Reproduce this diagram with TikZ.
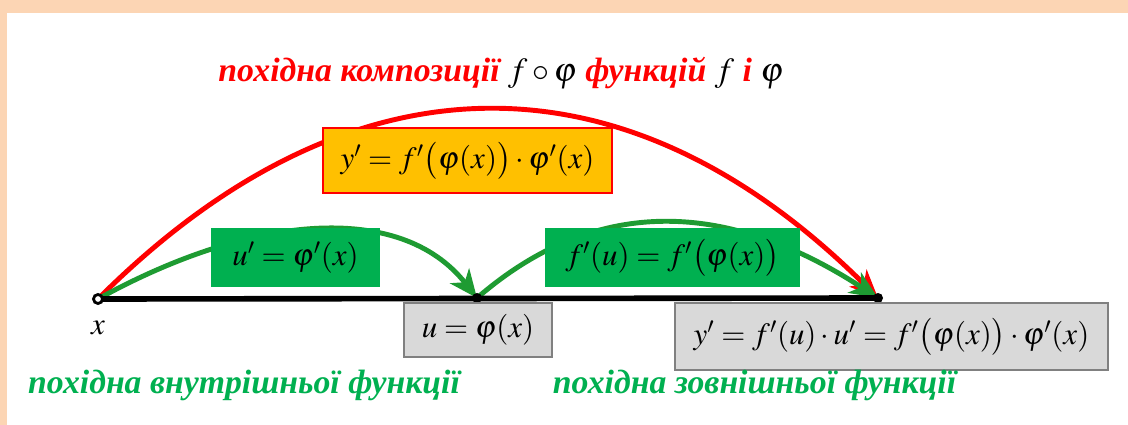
\documentclass[tikz,border=0pt]{standalone}
\usepackage{mathptmx}
\usepackage{fontspec}
\setmainfont{Liberation Serif}
\usetikzlibrary{arrows.meta,positioning}

\definecolor{peach}{HTML}{FCD5B4}
\definecolor{boxgreen}{HTML}{00B050}
\definecolor{arcgreen}{HTML}{1E9B32}
\definecolor{boxorange}{HTML}{FFC000}
\definecolor{boxgray}{HTML}{D9D9D9}
\definecolor{txtgreen}{HTML}{00B050}

\begin{document}
\begin{tikzpicture}[
    x=0.025cm, y=-0.025cm,
    formula/.style={rectangle, inner sep=0pt, font=\fontsize{22}{25}\selectfont},
    greenbox/.style={formula, fill=boxgreen, minimum height=1.475cm},
    graybox/.style={formula, fill=boxgray, draw=gray, line width=1pt},
    caption/.style={font=\fontsize{24}{28}\selectfont\bfseries\itshape},
    arrow/.style={line width=3.5pt, -{Stealth[length=7mm,width=6mm,inset=2mm]}}
]
    \useasboundingbox (0,0) rectangle (1128,425);
    % frame
    \fill[peach] (0,0) rectangle (1128,13);
    \fill[peach] (0,0) rectangle (7,425);

    % points on the axis
    \coordinate (x0) at (98,299);
    \coordinate (u0) at (477,298);
    \coordinate (y0) at (878,298);

    % arcs
    \draw[arrow, red] (x0) .. controls (350,47) and (626,47) .. (y0);
    \draw[arrow, arcgreen] (x0) .. controls (250,215) and (400,200) .. (u0);
    \draw[arrow, arcgreen] (u0) .. controls (590,200) and (720,195) .. (y0);

    % axis
    \draw[line width=4pt] (x0) -- (y0);
    \draw[line width=2pt, fill=white] (x0) circle (4.5);
    \fill (u0) circle (5);
    \fill (y0) circle (5);
    \node[below=12pt of x0, font=\fontsize{22}{24}\selectfont] (xlab) {$x$};

    % boxes
    \node[formula, fill=boxorange, draw=red, line width=2pt,
          minimum width=7.225cm, minimum height=1.625cm] (comp) at (467.5,160.5)
          {$y'=f'\bigl(\varphi(x)\bigr)\cdot\varphi'(x)$};
    \node[greenbox, minimum width=4.225cm] (inner) at (295.5,257.5) {$u'=\varphi'(x)$};
    \node[greenbox, minimum width=6.375cm] (outer) at (672.5,257.5) {$f'(u)=f'\bigl(\varphi(x)\bigr)$};
    \node[graybox, minimum width=3.7cm, minimum height=1.35cm] (usub) at (478,330) {$u=\varphi(x)$};
    \node[graybox, minimum width=10.825cm, minimum height=1.675cm] (chain) at (891.5,336.5)
          {$y'=f'(u)\cdot u'=f'\bigl(\varphi(x)\bigr)\cdot\varphi'(x)$};

    % captions
    \node[caption, text=red] (title) at (501,73)
          {похідна композиції \textcolor{black}{\mdseries$f\circ\varphi$} функцій \textcolor{black}{\mdseries$f$} і \textcolor{black}{\mdseries$\varphi$}};
    \node[caption, text=txtgreen] (innerlab) at (244,385) {похідна внутрішньої функції};
    \node[caption, text=txtgreen] (outerlab) at (754.5,385) {похідна зовнішньої функції};
\end{tikzpicture}
\end{document}
